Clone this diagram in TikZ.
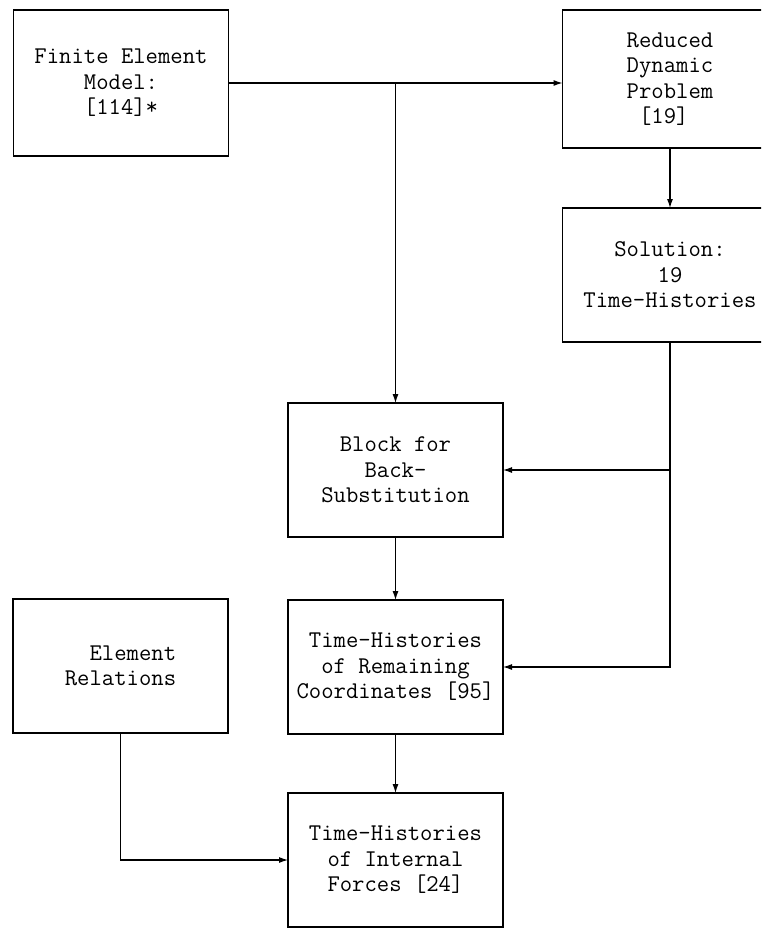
\documentclass[tikz,border=0pt]{standalone}
\usetikzlibrary{arrows.meta}

\begin{document}
\begin{tikzpicture}[x=1pt, y=-1pt,
    box/.style={draw, line width=1.1pt, minimum width=215pt, minimum height=134pt,
        inner sep=0pt, outer sep=0pt, align=center,
        font=\ttfamily\fontsize{24}{25.5}\selectfont},
    flow/.style={line width=1.1pt, -{Latex[length=9pt, width=6pt]}}]
    \useasboundingbox (0,0) rectangle (761,929);
    \clip (0,0) rectangle (761,929);

    % ブロック
    \node[box, minimum height=146pt] (fem) at (121,83) {Finite Element\\Model:\\{[114]*}};
    \node[box, minimum height=138pt, align=left] (reduced) at (670,79) {Reduced\\Dynamic\\Problem\\\ [19]};
    \node[box] (solution) at (670,275) {Solution:\\19\\Time-Histories};
    \node[box] (block) at (395.5,470) {Block for\\Back-\\Substitution};
    \node[box] (remain) at (395.5,667) {Time-Histories\\of Remaining\\Coordinates [95]};
    \node[box, align=right] (elem) at (120.5,666) {Element\\Relations};
    \node[box] (forces) at (395.5,860) {Time-Histories\\of Internal\\Forces [24]};

    % 分岐点
    \coordinate (split) at (block.north |- fem.east);

    % 矢印
    \draw[flow] (fem.east) -- (fem.east -| reduced.west);
    \draw[flow] (split) -- (block.north);
    \draw[flow] (reduced.south) -- (solution.north);
    \draw[flow] (solution.south) -- (solution.south |- remain.east) -- (remain.east);
    \draw[flow] (solution.south |- block.east) -- (block.east);
    \draw[flow] (block.south) -- (remain.north);
    \draw[flow] (remain.south) -- (forces.north);
    \draw[flow] (elem.south) |- (forces.west);
\end{tikzpicture}
\end{document}
